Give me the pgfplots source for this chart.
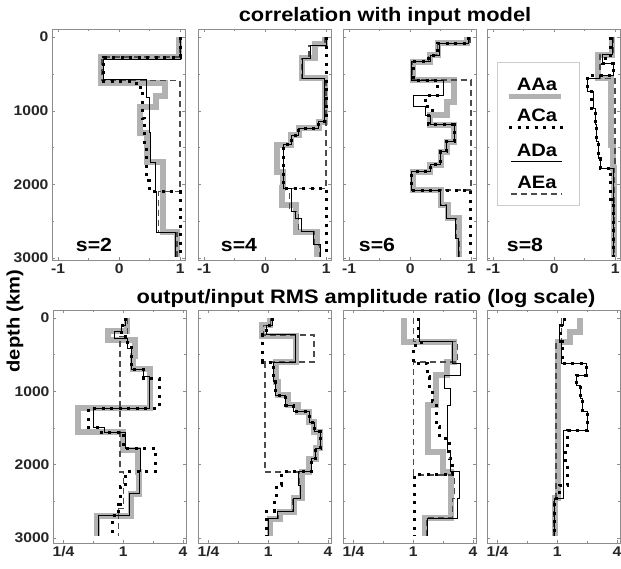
\documentclass[border=0pt]{standalone}
\usepackage{fontspec}
\setmainfont{Liberation Sans}[FakeStretch=1.12]
\usepackage{pgfplots}
\pgfplotsset{compat=1.18}
\definecolor{aagray}{gray}{0.7}
\definecolor{framegray}{gray}{0.55}
\definecolor{legframe}{gray}{0.8}
\pgfplotsset{
  prof/.style={scale only axis, width=133pt, anchor=north west, y dir=reverse,
    axis line style={framegray, line width=0.7pt},
    tick style={framegray, line width=0.5pt},
    major tick length=3pt, minor tick length=2pt,
    ytick={0,1000,2000,3000}, minor ytick={500,1500,2500},
    yticklabels={},
    tick label style={font=\fontsize{14}{16}\selectfont\bfseries, text=black!85},
    clip=true},
  toprow/.style={prof, height=231pt, ymin=-110, ymax=3025, xmin=-1.1, xmax=1.08,
    xtick={-1,0,1}, xticklabels={-1,0,1}, minor xtick={-0.5,0.5}},
  botrow/.style={prof, height=233pt, ymin=-110, ymax=3070,
    xmin=0.196, xmax=4.29, xtick={0.25,1,4}, xticklabels={1/4,1,4}, minor xtick={0.5,2}},
  sAA/.style={const plot, no marks, color=aagray, line width=6pt},
  sAC/.style={const plot, no marks, color=black, line width=3pt, dash pattern=on 3pt off 5.5pt},
  sAD/.style={const plot, no marks, color=black, line width=1pt},
  sAE/.style={const plot, no marks, color=black!70, line width=1.3pt, dash pattern=on 6pt off 4pt},
}
\tikzset{slab/.style={font=\fontsize{19}{22}\selectfont\bfseries, anchor=base},
  ttl/.style={font=\fontsize{19.5}{22}\selectfont\bfseries, anchor=base},
  leg/.style={font=\fontsize{18}{20}\selectfont\bfseries, anchor=base}}
\begin{document}
\begin{tikzpicture}
\path[use as bounding box] (0pt,0pt) rectangle (621pt,-568pt);
% ---------------- top row: correlation ----------------
\begin{axis}[toprow, at={(52pt,-29pt)}, yticklabels={0,1000,2000,3000}]
\addplot[sAA] coordinates {(0.98,0) (0.98,270) (-0.3,620) (0.75,800) (0.6,950) (0.35,1300) (0.45,1700) (0.72,2100) (0.72,2650) (0.95,2980)};
\addplot[sAE] coordinates {(1,0) (1,270) (-0.28,590) (1,2100) (0.65,2650) (0.95,2980)};
\addplot[sAD] coordinates {(1,0) (1,300) (-0.25,580) (0.45,820) (0.5,1300) (0.52,1700) (0.6,2100) (0.62,2650) (0.92,2980)};
\addplot[sAC] coordinates {(1,0) (1,270) (-0.25,600) (0.28,680) (0.38,1100) (0.42,1500) (0.45,1950) (0.5,2100) (1,2980)};
\end{axis}
\begin{axis}[toprow, at={(198pt,-29pt)}]
\addplot[sAA] coordinates {(0.98,0) (0.98,100) (0.82,290) (0.6,560) (0.98,1150) (0.88,1240) (0.55,1330) (0.42,1460) (0.2,1830) (0.3,2050) (0.27,2280) (0.5,2640) (0.85,2980)};
\addplot[sAE] coordinates {(0.98,0) (0.98,110) (0.72,290) (0.6,560) (1,2050) (0.4,2370) (0.55,2640) (0.8,2820) (0.9,2980)};
\addplot[sAD] coordinates {(1,0) (1,110) (0.74,290) (0.62,560) (0.98,1150) (0.88,1240) (0.55,1330) (0.44,1460) (0.3,2050) (0.44,2370) (0.5,2460) (0.6,2640) (0.8,2820) (0.9,2980)};
\addplot[sAC] coordinates {(1,0) (1,1150) (0.88,1240) (0.55,1330) (0.44,1460) (0.3,2050) (1,2980)};
\end{axis}
\begin{axis}[toprow, at={(343pt,-29pt)}]
\addplot[sAA] coordinates {(0.93,0) (0.93,86) (0.45,244) (0.33,335) (0.05,583) (0.72,880) (0.6,1060) (0.33,1190) (0.72,1420) (0.6,1555) (0.5,1735) (0.33,1825) (0.05,2075) (0.5,2280) (0.62,2460) (0.8,2980)};
\addplot[sAE] coordinates {(0.98,0) (0.98,86) (0.45,244) (0.3,335) (0.03,583) (1,2075) (0.5,2280) (0.6,2460) (0.75,2730) (0.8,2980)};
\addplot[sAD] coordinates {(0.95,0) (0.95,86) (0.48,244) (0.33,335) (0.03,583) (0.55,790) (0.05,945) (0.25,1060) (0.33,1190) (0.72,1420) (0.6,1555) (0.5,1735) (0.33,1825) (0.03,2075) (0.5,2280) (0.6,2460) (0.75,2730) (0.8,2980)};
\addplot[sAC] coordinates {(0.95,0) (0.95,86) (0.45,244) (0.3,335) (0.05,583) (0.45,790) (0.25,945) (0.36,1060) (0.3,1190) (0.72,1420) (0.6,1555) (0.5,1735) (0.33,1825) (0.03,2075) (0.99,2980)};
\end{axis}
\begin{axis}[toprow, at={(487pt,-29pt)}]
\addplot[sAA] coordinates {(0.95,0) (0.95,240) (0.72,560) (0.93,1460) (0.97,1780) (0.98,2980)};
\addplot[sAE] coordinates {(0.97,0) (0.97,240) (0.75,560) (1,1780) (0.98,2980)};
\addplot[sAD] coordinates {(0.95,0) (0.95,240) (0.8,360) (0.98,515) (0.75,560) (0.55,740) (0.65,970) (0.68,1190) (0.7,1420) (0.72,1650) (0.76,1780) (0.98,2980)};
\addplot[sAC] coordinates {(0.93,0) (0.93,290) (0.8,360) (0.98,515) (0.55,740) (0.62,970) (0.68,1190) (0.7,1420) (0.72,1650) (0.76,1780) (0.93,2200) (0.98,2980)};
\end{axis}
% ---------------- bottom row: amplitude ratio ----------------
\begin{axis}[xmode=log, botrow, at={(53pt,-310pt)}, yticklabels={0,1000,2000,3000}]
\addplot[sAA] coordinates {(1.1,0) (1.1,180) (0.7,300) (1.3,520) (1.25,700) (1.85,1230) (0.35,1550) (1.0,1800) (1.4,2100) (1.45,2400) (1.2,2700) (0.55,2980)};
\addplot[sAE] coordinates {(1.1,0) (1.1,250) (0.93,2100) (1.0,2600) (0.9,2980)};
\addplot[sAD] coordinates {(1.05,0) (1.05,100) (0.95,190) (0.82,280) (1.1,420) (1.2,700) (1.6,800) (1.85,1230) (0.5,1500) (0.65,1560) (1.05,1780) (1.5,2100) (1.45,2400) (1.15,2700) (0.56,2980)};
\addplot[sAC] coordinates {(1.05,0) (1.05,100) (0.95,250) (1.1,400) (1.2,700) (1.6,820) (2.3,1230) (0.45,1500) (0.58,1560) (1.0,1780) (2.1,2100) (1.05,2300) (0.93,2550) (0.9,2700) (0.78,2980)};
\end{axis}
\begin{axis}[xmode=log, botrow, at={(198pt,-310pt)}]
\addplot[sAA] coordinates {(1.05,0) (1.05,100) (0.86,250) (1.9,600) (1.2,870) (1.25,1050) (1.6,1190) (2.0,1280) (2.6,1420) (2.9,1550) (3.3,1780) (3.0,1920) (2.6,2100) (2.2,2460) (1.8,2640) (1.3,2740) (1.05,2980)};
\addplot[sAE] coordinates {(1.05,0) (1.05,100) (0.9,230) (2.9,600) (0.93,2100) (2.05,2280) (2.1,2460) (1.75,2640) (1.25,2740) (1.0,2980)};
\addplot[sAD] coordinates {(1.1,0) (1.1,100) (0.95,230) (1.9,600) (1.13,870) (1.18,1050) (1.5,1190) (1.8,1280) (2.6,1420) (2.9,1550) (3.4,1780) (3.0,1920) (2.7,2100) (2.0,2280) (2.1,2460) (1.8,2640) (1.25,2740) (1.0,2980)};
\addplot[sAC] coordinates {(1.1,0) (1.1,100) (0.95,230) (0.88,600) (1.13,870) (1.18,1050) (1.5,1190) (1.8,1280) (2.6,1420) (2.9,1550) (3.4,1780) (3.0,1920) (2.7,2100) (1.35,2280) (1.2,2460) (1.15,2640) (0.95,2980)};
\end{axis}
\begin{axis}[xmode=log, botrow, at={(343pt,-310pt)}]
\addplot[sAA] coordinates {(0.8,0) (0.8,320) (2.6,600) (2.2,780) (1.7,1190) (1.4,1830) (2.0,2100) (2.4,2730) (1.3,2980)};
\addplot[sAE] coordinates {(1,0) (1,320) (2.8,600) (1,2140) (2.6,2460) (2.5,2730) (1.35,2980)};
\addplot[sAD] coordinates {(1.15,0) (1.15,320) (2.5,620) (3.0,780) (2.05,960) (2.4,1190) (2.2,1830) (2.4,2100) (2.9,2460) (2.8,2730) (1.4,2980)};
\addplot[sAC] coordinates {(1.13,0) (1.13,280) (1.2,370) (1.0,620) (1.4,800) (1.45,960) (1.55,1140) (1.7,1480) (1.85,1640) (2.3,1920) (2.5,2140) (1.02,2980)};
\end{axis}
\begin{axis}[xmode=log, botrow, at={(487pt,-310pt)}]
\addplot[sAA] coordinates {(1.7,0) (1.7,190) (1.35,320) (1.02,2460) (0.95,2980)};
\addplot[sAE] coordinates {(1.1,0) (1.1,320) (0.97,2460) (0.93,2980)};
\addplot[sAD] coordinates {(1.15,0) (1.15,100) (1.05,320) (1.1,620) (1.95,780) (1.55,920) (1.7,1100) (1.8,1280) (2.0,1530) (1.15,2460) (0.93,2980)};
\addplot[sAC] coordinates {(1.17,0) (1.17,100) (1.08,320) (1.12,620) (1.95,780) (1.55,920) (1.7,1100) (1.8,1280) (2.0,1530) (1.27,1780) (1.22,2000) (1.28,2280) (1.05,2460) (0.93,2980)};
\end{axis}
% ---------------- labels ----------------
\node[ttl] at (385pt,-21pt) {correlation with input model};
\node[ttl] at (366pt,-303pt) {output/input RMS amplitude ratio (log scale)};
\node[font=\fontsize{18}{20}\selectfont\bfseries, rotate=90] at (15pt,-321pt) {depth (km)};
\node[slab] at (94pt,-251pt) {s=2};
\node[slab] at (239pt,-251pt) {s=4};
\node[slab] at (377pt,-251pt) {s=6};
\node[slab] at (525pt,-251pt) {s=8};
% legend
\draw[legframe, line width=0.6pt, fill=white] (497pt,-62pt) rectangle (579pt,-205pt);
\node[leg] at (537pt,-90pt) {AAa};
\draw[aagray, line width=5pt] (509pt,-96pt) -- (561pt,-96pt);
\node[leg] at (537pt,-121pt) {ACa};
\draw[black, line width=3pt, dash pattern=on 3pt off 5.5pt] (509pt,-127pt) -- (563pt,-127pt);
\node[leg] at (537pt,-156pt) {ADa};
\draw[black, line width=1pt] (511pt,-161pt) -- (562pt,-161pt);
\node[leg] at (537pt,-188pt) {AEa};
\draw[black!70, line width=1.3pt, dash pattern=on 6pt off 4pt] (511pt,-194pt) -- (562pt,-194pt);
\end{tikzpicture}
\end{document}
